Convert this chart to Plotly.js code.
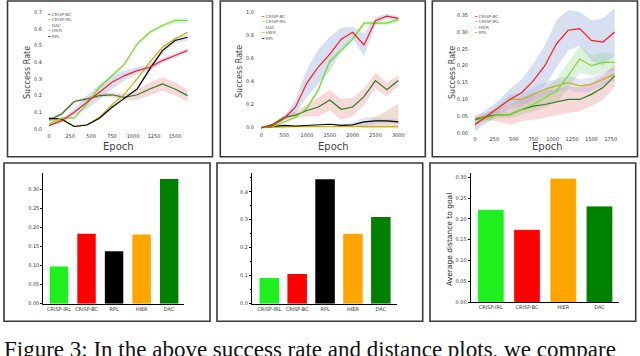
<!DOCTYPE html>
<html>
<head>
<meta charset="utf-8">
<script src="https://cdn.plot.ly/plotly-3.0.1.min.js"></script>
<style>
  html, body { margin: 0; padding: 0; background: #fff; }
  #chart { width: 640px; height: 356px; }
</style>
</head>
<body>
<div id="chart"></div>
<script>
// ---- top row: success rate curves ----
const epochs1 = [0, 150, 300, 450, 600, 750, 900, 1050, 1200, 1350, 1500, 1650];
const p1CrispBC  = [0.02, 0.05, 0.10, 0.16, 0.22, 0.28, 0.32, 0.35, 0.37, 0.41, 0.44, 0.47];
const p1CrispIRL = [0.03, 0.065, 0.065, 0.15, 0.25, 0.32, 0.39, 0.51, 0.58, 0.62, 0.65, 0.65];
const p1DAC      = [0.054, 0.09, 0.165, 0.18, 0.20, 0.205, 0.19, 0.205, 0.24, 0.27, 0.24, 0.20];
const p1HIER     = [0.054, 0.055, 0.015, 0.024, 0.07, 0.145, 0.21, 0.30, 0.40, 0.49, 0.54, 0.58];
const p1RPL      = [0.064, 0.06, 0.015, 0.024, 0.064, 0.13, 0.185, 0.24, 0.36, 0.47, 0.53, 0.55];
const p1SpreadBC  = [0.005, 0.01, 0.02, 0.04, 0.045, 0.04, 0.03, 0.02, 0.02, 0.015, 0.015, 0.015];
const p1SpreadIRL = [0.005, 0.005, 0.005, 0.01, 0.01, 0.01, 0.01, 0.01, 0.01, 0.01, 0.015, 0.015];
const p1SpreadDAC = [0.01, 0.01, 0.01, 0.01, 0.01, 0.015, 0.02, 0.03, 0.04, 0.04, 0.04, 0.035];
const p1SpreadRPL = [0.005, 0.005, 0.005, 0.005, 0.005, 0.01, 0.01, 0.01, 0.02, 0.02, 0.02, 0.02];

const epochs2 = [0, 250, 500, 750, 1000, 1250, 1500, 1750, 2000, 2250, 2500, 2750, 3000];
const p2CrispBC  = [0, 0.02, 0.08, 0.18, 0.39, 0.53, 0.64, 0.77, 0.83, 0.72, 0.93, 0.97, 0.95];
const p2CrispIRL = [0, 0.01, 0.05, 0.09, 0.17, 0.33, 0.58, 0.67, 0.77, 0.91, 0.91, 0.91, 0.94];
const p2DAC      = [0, 0.03, 0.09, 0.11, 0.15, 0.18, 0.24, 0.16, 0.18, 0.27, 0.41, 0.33, 0.41];
const p2HIER     = [0, 0.005, 0.01, 0.01, 0.01, 0.01, 0.01, 0.01, 0.01, 0.01, 0.01, 0.01, 0.01];
const p2RPL      = [0, 0.01, 0.02, 0.015, 0.02, 0.03, 0.03, 0.02, 0.025, 0.05, 0.06, 0.06, 0.05];
const p2SpreadBC  = [0, 0.01, 0.02, 0.06, 0.12, 0.15, 0.15, 0.1, 0.05, 0.1, 0.03, 0.02, 0.02];
const p2SpreadIRL = [0, 0.005, 0.01, 0.01, 0.02, 0.02, 0.02, 0.02, 0.02, 0.02, 0.02, 0.02, 0.02];
const p2SpreadDAC = [0, 0.01, 0.02, 0.03, 0.05, 0.08, 0.09, 0.09, 0.08, 0.07, 0.07, 0.06, 0.05];
const p2SpreadHIER = [0, 0, 0, 0, 0, 0, 0, 0, 0, 0.03, 0.08, 0.14, 0.2];
const p2SpreadRPL = [0, 0, 0, 0, 0, 0, 0, 0.01, 0.02, 0.04, 0.03, 0.02, 0.02];

const epochs3 = [0, 150, 300, 450, 600, 750, 900, 1050, 1200, 1350, 1500, 1650, 1800];
const p3CrispBC  = [0.025, 0.05, 0.075, 0.10, 0.12, 0.155, 0.20, 0.265, 0.305, 0.31, 0.275, 0.27, 0.30];
const p3CrispIRL = [0.03, 0.045, 0.054, 0.055, 0.07, 0.085, 0.105, 0.125, 0.17, 0.22, 0.20, 0.21, 0.21];
const p3DAC      = [0.04, 0.05, 0.054, 0.055, 0.07, 0.08, 0.085, 0.092, 0.10, 0.10, 0.115, 0.135, 0.17];
const p3HIER     = [0.045, 0.05, 0.075, 0.10, 0.10, 0.115, 0.13, 0.14, 0.15, 0.14, 0.145, 0.16, 0.175];
const p3SpreadBC  = [0.02, 0.02, 0.02, 0.03, 0.04, 0.05, 0.06, 0.07, 0.06, 0.05, 0.06, 0.07, 0.07];
const p3SpreadIRL = [0.005, 0.01, 0.01, 0.01, 0.015, 0.02, 0.03, 0.035, 0.04, 0.04, 0.03, 0.03, 0.025];
const p3SpreadDAC = [0.005, 0.01, 0.02, 0.03, 0.035, 0.04, 0.04, 0.04, 0.04, 0.035, 0.035, 0.035, 0.035];
const p3SpreadHIER = [0.01, 0.01, 0.01, 0.015, 0.015, 0.02, 0.02, 0.02, 0.02, 0.02, 0.02, 0.02, 0.02];

// ---- bottom row: bar charts ----
const bar4Labels = ["CRISP-IRL", "CRISP-BC", "RPL", "HIER", "DAC"];
const bar4Values = [0.098, 0.184, 0.138, 0.182, 0.328];
const bar5Labels = ["CRISP-IRL", "CRISP-BC", "RPL", "HIER", "DAC"];
const bar5Values = [0.092, 0.106, 0.445, 0.25, 0.31];
const bar6Labels = ["CRISP-IRL", "CRISP-BC", "HIER", "DAC"];
const bar6Values = [0.222, 0.174, 0.297, 0.23];

const C = {
  bc: "#ff1a1a", irl: "#77dd22", dac: "#2f7a22", hier: "#c9b200", rpl: "#000000",
  barIrl: "#1ef01e", barBc: "#ff0000", barRpl: "#000000", barHier: "#ffa500", barDac: "#008000"
};
const bandC = {
  bc: "rgba(110,140,205,0.28)", irl: "rgba(130,210,130,0.28)", dac: "rgba(225,120,120,0.28)",
  hier: "rgba(200,170,120,0.35)", rpl: "rgba(160,160,225,0.28)"
};

const traces = [];
function band(xs, ys, spread, color, ax) {
  const up = ys.map((v, i) => v + spread[i]);
  const lo = ys.map((v, i) => Math.max(0, v - spread[i]));
  traces.push({
    x: xs.concat(xs.slice().reverse()), y: up.concat(lo.reverse()),
    type: "scatter", mode: "lines", fill: "toself", fillcolor: color,
    line: { width: 0 }, hoverinfo: "skip", showlegend: false,
    xaxis: "x" + ax, yaxis: "y" + ax
  });
}
function curve(xs, ys, color, ax) {
  traces.push({
    x: xs, y: ys, type: "scatter", mode: "lines",
    line: { color: color, width: 1.2 }, showlegend: false,
    xaxis: "x" + ax, yaxis: "y" + ax
  });
}

// panel 1
band(epochs1, p1CrispBC, p1SpreadBC, bandC.bc, "");
band(epochs1, p1CrispIRL, p1SpreadIRL, bandC.irl, "");
band(epochs1, p1DAC, p1SpreadDAC, bandC.dac, "");
band(epochs1, p1RPL, p1SpreadRPL, bandC.rpl, "");
curve(epochs1, p1DAC, C.dac, "");
curve(epochs1, p1HIER, C.hier, "");
curve(epochs1, p1RPL, C.rpl, "");
curve(epochs1, p1CrispIRL, C.irl, "");
curve(epochs1, p1CrispBC, C.bc, "");

// panel 2
band(epochs2, p2CrispBC, p2SpreadBC, bandC.bc, "2");
band(epochs2, p2CrispIRL, p2SpreadIRL, bandC.irl, "2");
band(epochs2, p2DAC, p2SpreadDAC, bandC.dac, "2");
band(epochs2, p2HIER, p2SpreadHIER, bandC.hier, "2");
band(epochs2, p2RPL, p2SpreadRPL, bandC.rpl, "2");
curve(epochs2, p2HIER, C.hier, "2");
curve(epochs2, p2RPL, C.rpl, "2");
curve(epochs2, p2DAC, C.dac, "2");
curve(epochs2, p2CrispIRL, C.irl, "2");
curve(epochs2, p2CrispBC, C.bc, "2");

// panel 3
band(epochs3, p3CrispBC, p3SpreadBC, bandC.bc, "3");
band(epochs3, p3CrispIRL, p3SpreadIRL, bandC.irl, "3");
band(epochs3, p3DAC, p3SpreadDAC, bandC.dac, "3");
band(epochs3, p3HIER, p3SpreadHIER, bandC.rpl, "3");
curve(epochs3, p3DAC, C.dac, "3");
curve(epochs3, p3HIER, C.hier, "3");
curve(epochs3, p3CrispIRL, C.irl, "3");
curve(epochs3, p3CrispBC, C.bc, "3");

// bars
const barColors5 = [C.barIrl, C.barBc, C.barRpl, C.barHier, C.barDac];
const barColors4 = [C.barIrl, C.barBc, C.barHier, C.barDac];
traces.push({ x: bar4Labels, y: bar4Values, type: "bar", width: 0.67,
  marker: { color: barColors5 }, showlegend: false, xaxis: "x4", yaxis: "y4" });
traces.push({ x: bar5Labels, y: bar5Values, type: "bar", width: 0.7,
  marker: { color: barColors5 }, showlegend: false, xaxis: "x5", yaxis: "y5" });
traces.push({ x: bar6Labels, y: bar6Values, type: "bar", width: 0.72,
  marker: { color: barColors4, line: { color: "rgba(255,255,255,0.5)", width: 0.6 } },
  showlegend: false, xaxis: "x6", yaxis: "y6" });

const tickFont = { family: "DejaVu Sans", size: 5, color: "#333" };
const W = 640, H = 356;
const px = v => v / W;
const py = v => 1 - v / H;

function lineAxis(dom, range, tickvals, fmt) {
  return {
    domain: dom, range: range, tickvals: tickvals, tickformat: fmt,
    showgrid: false, zeroline: false, showline: false, ticks: "",
    tickfont: tickFont, ticklabelstandoff: 1, fixedrange: true
  };
}
function barY(dom, range, tickvals, fmt, anchor) {
  return {
    domain: dom, range: range, tickvals: tickvals, tickformat: fmt, anchor: anchor,
    showgrid: false, zeroline: false, showline: true, linecolor: "#000", linewidth: 1,
    ticks: "outside", ticklen: 2, tickcolor: "#000",
    minor: { ticks: "outside", ticklen: 1.5, tickcolor: "#000", nticks: 2 },
    tickfont: tickFont, fixedrange: true
  };
}
function barX(dom, range, anchor) {
  return {
    domain: dom, range: range, anchor: anchor, type: "category",
    showgrid: false, zeroline: false, showline: true, linecolor: "#000", linewidth: 1,
    ticks: "", tickfont: tickFont, fixedrange: true
  };
}

const legendLine = (color, label) =>
  '<span style="color:' + color + '">━</span> ' + label;

const annFont = { family: "DejaVu Sans", color: "#444" };
const annotations = [
  // axis titles, top row
  { text: "Epoch", x: px(118), y: py(146), font: { ...annFont, size: 10 } },
  { text: "Epoch", x: px(333), y: py(146), font: { ...annFont, size: 10 } },
  { text: "Epoch", x: px(547), y: py(146), font: { ...annFont, size: 10 } },
  { text: "Success Rate", x: px(27), y: py(73), textangle: -90, font: { ...annFont, size: 8 } },
  { text: "Success Rate", x: px(239), y: py(72), textangle: -90, font: { ...annFont, size: 8 } },
  { text: "Success Rate", x: px(452), y: py(73), textangle: -90, font: { ...annFont, size: 8 } },
  { text: "Average distance to goal", x: px(449), y: py(240), textangle: -90,
    font: { family: "DejaVu Sans", size: 7.5, color: "#222" } },
  // legends
  { text: [legendLine(C.bc, "CRISP-BC"), legendLine(C.irl, "CRISP-IRL"), legendLine("#cde6c8", "DAC"),
           legendLine(C.hier, "HIER"), legendLine(C.rpl, "RPL")].join("<br>"),
    x: px(45), y: py(10), xanchor: "left", yanchor: "top", align: "left",
    font: { family: "DejaVu Sans", size: 4.2, color: "#555" } },
  { text: [legendLine(C.bc, "CRISP-BC"), legendLine(C.irl, "CRISP-IRL"), legendLine("#cde6c8", "DAC"),
           legendLine(C.hier, "HIER"), legendLine(C.rpl, "RPL")].join("<br>"),
    x: px(259), y: py(12), xanchor: "left", yanchor: "top", align: "left",
    font: { family: "DejaVu Sans", size: 4.2, color: "#555" } },
  { text: [legendLine(C.bc, "CRISP-BC"), legendLine(C.irl, "CRISP-IRL"), legendLine("#cde6c8", "HIER"),
           legendLine(C.hier, "RPL")].join("<br>"),
    x: px(472), y: py(12), xanchor: "left", yanchor: "top", align: "left",
    font: { family: "DejaVu Sans", size: 4.2, color: "#555" } },
  // caption (cut off at the bottom of the page)
  { text: "Figure 3: In the above success rate and distance plots, we compare",
    x: px(2), y: py(335), xanchor: "left", yanchor: "top", align: "left",
    font: { family: "Liberation Serif", size: 23, color: "#111" } }
].map(a => ({ xref: "paper", yref: "paper", showarrow: false,
              xanchor: "center", yanchor: "middle", ...a }));

const box = (x0, y0, x1, y1) => ({
  type: "rect", xref: "paper", yref: "paper",
  x0: px(x0), x1: px(x1), y0: py(y1), y1: py(y0),
  line: { color: "#3a3a3a", width: 1.6 }, fillcolor: "rgba(0,0,0,0)"
});

const layout = {
  width: W, height: H,
  margin: { l: 0, r: 0, t: 0, b: 0 },
  paper_bgcolor: "#fff", plot_bgcolor: "#fff",
  showlegend: false,
  xaxis:  lineAxis([px(44), px(196)], [-60, 1750], [0, 250, 500, 750, 1000, 1250, 1500], "d"),
  yaxis:  lineAxis([py(131), py(8)], [-0.012, 0.725], [0, 0.1, 0.2, 0.3, 0.4, 0.5, 0.6, 0.7], ".1f"),
  xaxis2: { ...lineAxis([px(256), px(404)], [-116, 3125], [0, 500, 1000, 1500, 2000, 2500, 3000], "d"), anchor: "y2" },
  yaxis2: { ...lineAxis([py(130), py(8)], [-0.02, 1.041], [0, 0.2, 0.4, 0.6, 0.8, 1.0], ".1f"), anchor: "x2" },
  xaxis3: { ...lineAxis([px(470), px(618)], [-64, 1843], [0, 250, 500, 750, 1000, 1250, 1500, 1750], "d"), anchor: "y3" },
  yaxis3: { ...lineAxis([py(133.5), py(8)], [-0.001, 0.371], [0, 0.05, 0.1, 0.15, 0.2, 0.25, 0.3, 0.35], ".2f"), anchor: "x3" },
  xaxis4: barX([px(43.3), px(184.3)], [-0.57, 4.55], "y4"),
  yaxis4: barY([py(303.7), py(173)], [0, 0.344], [0, 0.05, 0.1, 0.15, 0.2, 0.25, 0.3], ".2f", "x4"),
  xaxis5: barX([px(252), px(397)], [-0.62, 4.58], "y5"),
  yaxis5: barY([py(303.7), py(173)], [0, 0.467], [0, 0.1, 0.2, 0.3, 0.4], ".1f", "x5"),
  xaxis6: barX([px(470.7), px(619)], [-0.555, 3.54], "y6"),
  yaxis6: barY([py(302.3), py(173)], [0, 0.31], [0, 0.05, 0.1, 0.15, 0.2, 0.25, 0.3], ".2f", "x6"),
  shapes: [
    box(7.5, 1, 212.5, 156.7), box(220.3, 1, 425.3, 156.7), box(432.3, 1, 637.5, 156.7),
    box(4, 163, 210, 321.3), box(217, 163, 422.7, 321.3), box(430, 163, 635.7, 321.3)
  ],
  annotations: annotations
};

Plotly.newPlot("chart", traces, layout, { staticPlot: true, displayModeBar: false });
</script>
</body>
</html>
